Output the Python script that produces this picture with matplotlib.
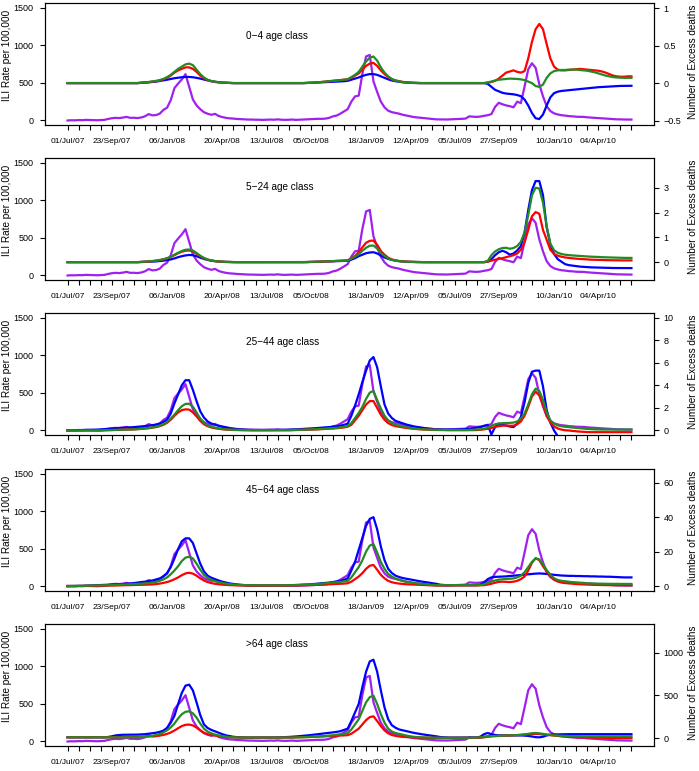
import matplotlib.pyplot as plt
import numpy as np

plt.rcParams['font.family'] = ['Liberation Sans', 'DejaVu Sans']

# weekly index, week 0 = 01/Jul/07
weeks = np.arange(154)

tick_label_weeks = [0, 12, 27, 42, 54, 66, 81, 93, 105, 117, 132, 144]
tick_label_text = ['01/Jul/07', '23/Sep/07', '06/Jan/08', '20/Apr/08', '13/Jul/08',
                   '05/Oct/08', '18/Jan/09', '12/Apr/09', '05/Jul/09', '27/Sep/09',
                   '10/Jan/10', '04/Apr/10']

# ILI rate per 100,000 (left axis)
ili = [
    0, 3, 2, 5, 4, 8, 6, 5, 3, 5,
    8, 20, 30, 35, 32, 38, 48, 35, 36, 32,
    40, 55, 85, 68, 72, 90, 140, 170, 270, 430,
    490, 545, 615, 450, 280, 200, 150, 110, 90, 75,
    88, 60, 45, 35, 28, 25, 20, 18, 15, 12,
    12, 10, 10, 8, 10, 12, 10, 15, 10, 8,
    10, 12, 8, 10, 12, 15, 18, 20, 22, 22,
    25, 35, 55, 65, 90, 120, 150, 250, 320, 330,
    620, 850, 870, 520, 380, 250, 175, 130, 110, 100,
    90, 75, 65, 55, 45, 40, 35, 30, 25, 20,
    15, 14, 13, 13, 15, 16, 18, 22, 25, 55,
    50, 48, 52, 62, 70, 85, 180, 235, 215, 200,
    190, 175, 250, 230, 450, 680, 760, 700, 480, 320,
    190, 125, 95, 80, 70, 65, 58, 55, 50, 48,
    48, 42, 38, 35, 32, 28, 25, 22, 18, 15,
    15, 13, 13, 12]

# excess deaths (right axis), 0-4
red_04 = [
    0, 0, 0, 0, 0, 0, 0, 0, 0, 0,
    0, 0, 0, 0, 0, 0, 0, 0, 0, 0,
    0.005, 0.008, 0.012, 0.018, 0.025, 0.035, 0.05, 0.07, 0.10, 0.14,
    0.17, 0.19, 0.21, 0.21, 0.19, 0.15, 0.10, 0.065, 0.04, 0.025,
    0.015, 0.01, 0.006, 0.004, 0.002, 0, 0, 0, 0, 0,
    0, 0, 0, 0, 0, 0, 0, 0, 0, 0,
    0, 0, 0, 0, 0, 0.002, 0.004, 0.006, 0.01, 0.015,
    0.02, 0.025, 0.03, 0.035, 0.04, 0.045, 0.05, 0.07, 0.10, 0.13,
    0.18, 0.23, 0.26, 0.27, 0.23, 0.17, 0.12, 0.08, 0.05, 0.035,
    0.025, 0.015, 0.01, 0.006, 0.004, 0.002, 0, 0, 0, 0,
    0, 0, 0, 0, 0, 0, 0, 0, 0, 0,
    0, 0, 0, 0, 0.005, 0.015, 0.03, 0.06, 0.10, 0.14,
    0.155, 0.17, 0.15, 0.14, 0.16, 0.33, 0.55, 0.72, 0.79, 0.72,
    0.52, 0.33, 0.22, 0.18, 0.17, 0.17, 0.175, 0.18, 0.185, 0.19,
    0.185, 0.18, 0.175, 0.17, 0.165, 0.155, 0.14, 0.12, 0.10, 0.09,
    0.085, 0.085, 0.09, 0.09]
green_04 = [
    0, 0, 0, 0, 0, 0, 0, 0, 0, 0,
    0, 0, 0, 0, 0, 0, 0, 0, 0, 0,
    0.005, 0.01, 0.015, 0.022, 0.03, 0.04, 0.055, 0.08, 0.11, 0.15,
    0.19, 0.22, 0.25, 0.26, 0.24, 0.18, 0.12, 0.075, 0.045, 0.028,
    0.017, 0.01, 0.006, 0.004, 0.002, 0, 0, 0, 0, 0,
    0, 0, 0, 0, 0, 0, 0, 0, 0, 0,
    0, 0, 0, 0, 0, 0.002, 0.004, 0.007, 0.01, 0.015,
    0.02, 0.025, 0.03, 0.035, 0.04, 0.045, 0.05, 0.08, 0.11, 0.15,
    0.22, 0.29, 0.34, 0.355, 0.30, 0.21, 0.14, 0.09, 0.055, 0.035,
    0.022, 0.014, 0.008, 0.005, 0.003, 0.001, 0, 0, 0, 0,
    0, 0, 0, 0, 0, 0, 0, 0, 0, 0,
    0, 0, 0, 0, 0.01, 0.02, 0.035, 0.045, 0.05, 0.055,
    0.06, 0.058, 0.055, 0.05, 0.04, 0.02, 0.0, -0.04, -0.05, -0.02,
    0.07, 0.13, 0.16, 0.17, 0.175, 0.175, 0.18, 0.18, 0.18, 0.175,
    0.17, 0.165, 0.155, 0.145, 0.13, 0.115, 0.10, 0.09, 0.08, 0.075,
    0.072, 0.07, 0.07, 0.07]
blue_04 = [
    0, 0, 0, 0, 0, 0, 0, 0, 0, 0,
    0, 0, 0, 0, 0, 0, 0, 0, 0, 0,
    0.003, 0.006, 0.01, 0.015, 0.02, 0.028, 0.035, 0.045, 0.055, 0.065,
    0.072, 0.078, 0.082, 0.082, 0.078, 0.07, 0.06, 0.048, 0.036, 0.026,
    0.018, 0.012, 0.007, 0.004, 0.002, 0, 0, 0, 0, 0,
    0, 0, 0, 0, 0, 0, 0, 0, 0, 0,
    0, 0, 0, 0, 0, 0.002, 0.004, 0.006, 0.008, 0.01,
    0.012, 0.015, 0.018, 0.02, 0.022, 0.025, 0.03, 0.045, 0.06, 0.075,
    0.095, 0.11, 0.12, 0.12, 0.11, 0.09, 0.07, 0.05, 0.035, 0.025,
    0.017, 0.01, 0.006, 0.003, 0.001, 0, 0, 0, 0, 0,
    0, 0, 0, 0, 0, 0, 0, 0, 0, 0,
    0, 0, 0, 0, -0.01, -0.05, -0.09, -0.11, -0.13, -0.14,
    -0.145, -0.15, -0.16, -0.175, -0.22, -0.3, -0.4, -0.47, -0.48, -0.42,
    -0.3, -0.19, -0.135, -0.115, -0.105, -0.1, -0.095, -0.09, -0.085, -0.08,
    -0.075, -0.07, -0.065, -0.06, -0.055, -0.052, -0.048, -0.045, -0.042, -0.04,
    -0.038, -0.037, -0.036, -0.036]

# 5-24
red_524 = [
    0, 0, 0, 0, 0, 0, 0, 0, 0, 0,
    0, 0, 0, 0, 0, 0, 0, 0, 0, 0,
    0.01, 0.02, 0.03, 0.04, 0.06, 0.08, 0.11, 0.15, 0.21, 0.28,
    0.36, 0.42, 0.46, 0.47, 0.43, 0.34, 0.24, 0.16, 0.1, 0.065,
    0.04, 0.025, 0.015, 0.008, 0.004, 0.002, 0, 0, 0, 0,
    0, 0, 0, 0, 0, 0, 0, 0, 0, 0,
    0, 0, 0, 0, 0, 0.005, 0.01, 0.015, 0.02, 0.025,
    0.03, 0.035, 0.04, 0.05, 0.055, 0.06, 0.07, 0.15, 0.25, 0.40,
    0.6, 0.78, 0.86, 0.87, 0.7, 0.45, 0.3, 0.18, 0.11, 0.07,
    0.045, 0.03, 0.02, 0.012, 0.008, 0.004, 0.002, 0, 0, 0,
    0, 0, 0, 0, 0, 0, 0, 0, 0, 0,
    0, 0, 0, 0, 0.02, 0.06, 0.1, 0.13, 0.16, 0.2,
    0.24, 0.28, 0.35, 0.5, 0.8, 1.3, 1.85, 2.02, 1.95, 1.3,
    0.9, 0.5, 0.33, 0.26, 0.22, 0.19, 0.17, 0.155, 0.14, 0.13,
    0.12, 0.11, 0.1, 0.095, 0.09, 0.085, 0.08, 0.078, 0.075, 0.072,
    0.07, 0.07, 0.07, 0.07]
green_524 = [
    0, 0, 0, 0, 0, 0, 0, 0, 0, 0,
    0, 0, 0, 0, 0, 0, 0, 0, 0, 0,
    0.01, 0.02, 0.03, 0.045, 0.06, 0.085, 0.12, 0.16, 0.22, 0.3,
    0.38, 0.45, 0.5, 0.51, 0.47, 0.37, 0.26, 0.17, 0.11, 0.07,
    0.045, 0.028, 0.017, 0.01, 0.005, 0.002, 0, 0, 0, 0,
    0, 0, 0, 0, 0, 0, 0, 0, 0, 0,
    0, 0, 0, 0, 0, 0.005, 0.01, 0.015, 0.02, 0.025,
    0.03, 0.035, 0.04, 0.05, 0.055, 0.06, 0.07, 0.14, 0.22, 0.32,
    0.46, 0.58, 0.66, 0.67, 0.55, 0.37, 0.25, 0.15, 0.095, 0.06,
    0.04, 0.025, 0.015, 0.01, 0.006, 0.003, 0.001, 0, 0, 0,
    0, 0, 0, 0, 0, 0, 0, 0, 0, 0,
    0, 0, 0, 0, 0.05, 0.28, 0.43, 0.52, 0.57, 0.58,
    0.54, 0.57, 0.65, 0.82, 1.2, 1.9, 2.7, 3.0, 2.97, 2.4,
    1.45, 0.75, 0.48, 0.38, 0.33, 0.3, 0.285, 0.27, 0.26, 0.25,
    0.24, 0.23, 0.22, 0.215, 0.21, 0.2, 0.195, 0.19, 0.185, 0.18,
    0.175, 0.172, 0.17, 0.17]
blue_524 = [
    0, 0, 0, 0, 0, 0, 0, 0, 0, 0,
    0, 0, 0, 0, 0, 0, 0, 0, 0, 0,
    0.005, 0.01, 0.015, 0.022, 0.03, 0.045, 0.06, 0.08, 0.11, 0.15,
    0.2, 0.24, 0.27, 0.29, 0.28, 0.24, 0.18, 0.13, 0.09, 0.06,
    0.04, 0.025, 0.015, 0.01, 0.005, 0.002, 0, 0, 0, 0,
    0, 0, 0, 0, 0, 0, 0, 0, 0, 0,
    0, 0, 0, 0, 0, 0.003, 0.006, 0.01, 0.015, 0.02,
    0.025, 0.03, 0.035, 0.04, 0.045, 0.05, 0.06, 0.1, 0.16, 0.24,
    0.3, 0.36, 0.39, 0.4, 0.35, 0.27, 0.19, 0.13, 0.09, 0.06,
    0.04, 0.025, 0.015, 0.01, 0.006, 0.003, 0.001, 0, 0, 0,
    0, 0, 0, 0, 0, 0, 0, 0, 0, 0,
    0, 0, 0, 0, 0.02, 0.12, 0.28, 0.4, 0.46, 0.4,
    0.3, 0.35, 0.47, 0.65, 1.2, 2.1, 2.9, 3.27, 3.27, 2.7,
    1.4, 0.7, 0.33, 0.12, 0.02, -0.08, -0.12, -0.14, -0.16, -0.18,
    -0.19, -0.2, -0.21, -0.215, -0.22, -0.225, -0.23, -0.233, -0.236, -0.238,
    -0.24, -0.24, -0.24, -0.24]

# 25-44
red_2544 = [
    0, 0, 0, 0, 0, 0, 0, 0, 0, 0,
    0.02, 0.03, 0.04, 0.05, 0.06, 0.07, 0.08, 0.09, 0.1, 0.12,
    0.14, 0.17, 0.2, 0.25, 0.3, 0.38, 0.5, 0.68, 0.95, 1.3,
    1.6, 1.8, 1.87, 1.85, 1.6, 1.25, 0.85, 0.55, 0.38, 0.27,
    0.2, 0.15, 0.11, 0.08, 0.06, 0.045, 0.035, 0.03, 0.025, 0.02,
    0.02, 0.02, 0.02, 0.02, 0.02, 0.02, 0.02, 0.02, 0.02, 0.02,
    0.02, 0.03, 0.04, 0.05, 0.06, 0.07, 0.08, 0.09, 0.1, 0.12,
    0.14, 0.16, 0.18, 0.2, 0.23, 0.27, 0.33, 0.5, 0.9, 1.3,
    1.8, 2.3, 2.6, 2.6, 2.0, 1.4, 0.95, 0.65, 0.48, 0.38,
    0.32, 0.27, 0.22, 0.18, 0.15, 0.12, 0.1, 0.08, 0.07, 0.06,
    0.05, 0.04, 0.04, 0.03, 0.03, 0.03, 0.03, 0.03, 0.03, 0.03,
    0.03, 0.04, 0.06, 0.1, 0.15, 0.22, 0.32, 0.38, 0.42, 0.44,
    0.42, 0.42, 0.55, 0.8, 1.3, 2.1, 3.0, 3.44, 3.1, 2.3,
    1.3, 0.7, 0.35, 0.18, 0.08, 0.02, 0.0, -0.04, -0.07, -0.1,
    -0.12, -0.14, -0.15, -0.15, -0.15, -0.15, -0.15, -0.15, -0.15, -0.15,
    -0.15, -0.15, -0.15, -0.15]
green_2544 = [
    0, 0, 0, 0, 0, 0, 0, 0, 0, 0,
    0.02, 0.03, 0.04, 0.05, 0.06, 0.07, 0.08, 0.09, 0.1, 0.12,
    0.15, 0.18, 0.22, 0.27, 0.33, 0.42, 0.55, 0.75, 1.05, 1.4,
    1.8, 2.15, 2.35, 2.37, 2.1, 1.6, 1.05, 0.68, 0.45, 0.33,
    0.25, 0.18, 0.13, 0.1, 0.08, 0.06, 0.05, 0.04, 0.035, 0.03,
    0.03, 0.03, 0.03, 0.03, 0.03, 0.03, 0.03, 0.03, 0.03, 0.03,
    0.03, 0.04, 0.05, 0.06, 0.07, 0.08, 0.09, 0.1, 0.12, 0.14,
    0.16, 0.18, 0.2, 0.23, 0.27, 0.32, 0.4, 0.65, 1.1, 1.55,
    2.1, 2.8, 3.35, 3.5, 2.7, 1.95, 1.3, 0.9, 0.65, 0.5,
    0.42, 0.35, 0.28, 0.22, 0.18, 0.14, 0.11, 0.09, 0.08, 0.07,
    0.06, 0.05, 0.05, 0.04, 0.04, 0.04, 0.04, 0.04, 0.04, 0.05,
    0.06, 0.08, 0.1, 0.15, 0.25, 0.4, 0.55, 0.62, 0.65, 0.66,
    0.67, 0.7, 0.8, 1.05, 1.5, 2.3, 3.2, 3.7, 3.5, 2.7,
    1.6, 0.9, 0.6, 0.45, 0.38, 0.33, 0.3, 0.26, 0.23, 0.2,
    0.17, 0.14, 0.12, 0.1, 0.09, 0.08, 0.08, 0.08, 0.08, 0.08,
    0.08, 0.08, 0.08, 0.08]
blue_2544 = [
    0.02, 0.03, 0.03, 0.04, 0.04, 0.05, 0.06, 0.07, 0.08, 0.1,
    0.12, 0.15, 0.18, 0.2, 0.22, 0.24, 0.26, 0.27, 0.3, 0.33,
    0.36, 0.39, 0.42, 0.47, 0.53, 0.62, 0.75, 0.95, 1.5, 2.4,
    3.2, 4.0, 4.45, 4.45, 3.6, 2.6, 1.7, 1.15, 0.8, 0.62,
    0.5, 0.42, 0.35, 0.28, 0.2, 0.15, 0.11, 0.08, 0.06, 0.05,
    0.04, 0.04, 0.04, 0.04, 0.04, 0.04, 0.05, 0.05, 0.05, 0.06,
    0.07, 0.08, 0.1, 0.12, 0.14, 0.16, 0.18, 0.2, 0.22, 0.25,
    0.28, 0.3, 0.33, 0.37, 0.42, 0.5, 0.6, 1.3, 2.2, 3.2,
    4.3, 5.3, 6.2, 6.5, 5.6, 3.9, 2.3, 1.5, 1.1, 0.85,
    0.74, 0.62, 0.52, 0.44, 0.36, 0.3, 0.25, 0.2, 0.16, 0.13,
    0.1, 0.09, 0.08, 0.08, 0.08, 0.08, 0.09, 0.1, 0.12, 0.15,
    0.2, 0.25, 0.3, 0.4, 0.5, -0.35, 0.3, 0.6, 0.5, 0.44,
    0.35, 0.3, 0.6, 1.2, 2.5, 4.2, 5.2, 5.3, 5.3, 3.9,
    1.8, 0.7, 0.0, -0.5, -1.0, -1.3, -1.5, -1.6, -1.7, -1.7,
    -1.7, -1.7, -1.7, -1.7, -1.7, -1.7, -1.7, -1.7, -1.7, -1.7,
    -1.7, -1.7, -1.7, -1.7]

# 45-64
red_4564 = [
    0, 0, 0, 0, 0, 0, 0.05, 0.1, 0.1, 0.15,
    0.2, 0.2, 0.25, 0.3, 0.3, 0.35, 0.4, 0.45, 0.5, 0.55,
    0.6, 0.7, 0.8, 0.9, 1.1, 1.4, 1.8, 2.3, 3.0, 3.9,
    5.0, 6.3, 7.3, 7.7, 7.2, 6.0, 4.5, 3.2, 2.3, 1.7,
    1.3, 1.0, 0.8, 0.6, 0.5, 0.4, 0.35, 0.3, 0.25, 0.2,
    0.2, 0.2, 0.2, 0.2, 0.2, 0.2, 0.2, 0.2, 0.2, 0.2,
    0.2, 0.25, 0.3, 0.35, 0.4, 0.45, 0.5, 0.6, 0.7, 0.8,
    0.9, 1.0, 1.1, 1.2, 1.3, 1.4, 1.6, 2.5, 4.0, 5.5,
    7.5, 10.0, 11.8, 12.2, 9.5, 6.5, 4.5, 3.0, 2.2, 1.7,
    1.4, 1.2, 1.0, 0.9, 0.8, 0.7, 0.6, 0.5, 0.4, 0.35,
    0.3, 0.3, 0.3, 0.3, 0.3, 0.3, 0.3, 0.3, 0.3, 0.3,
    0.3, 0.35, 0.4, 0.5, 0.8, 1.3, 1.9, 2.4, 2.5, 2.4,
    2.3, 2.5, 3.0, 4.0, 5.5, 9.0, 13.5, 16.2, 15.0, 11.5,
    8.5, 5.5, 3.6, 2.6, 2.0, 1.7, 1.5, 1.3, 1.15, 1.0,
    0.9, 0.8, 0.7, 0.65, 0.6, 0.55, 0.5, 0.5, 0.45, 0.45,
    0.4, 0.4, 0.4, 0.4]
green_4564 = [
    0, 0, 0, 0.05, 0.1, 0.1, 0.15, 0.2, 0.25, 0.3,
    0.35, 0.4, 0.5, 0.6, 0.7, 0.8, 0.9, 1.0, 1.1, 1.2,
    1.35, 1.5, 1.7, 2.0, 2.4, 3.0, 3.8, 5.0, 6.8, 9.0,
    11.5, 14.5, 16.5, 17.0, 16.0, 13.0, 9.5, 6.5, 4.8, 3.6,
    2.8, 2.2, 1.8, 1.4, 1.1, 0.9, 0.7, 0.6, 0.5, 0.45,
    0.4, 0.4, 0.4, 0.4, 0.4, 0.4, 0.4, 0.4, 0.4, 0.4,
    0.4, 0.45, 0.5, 0.6, 0.7, 0.8, 0.9, 1.0, 1.2, 1.4,
    1.6, 1.8, 2.0, 2.2, 2.4, 2.7, 3.0, 5.0, 8.0, 11.0,
    15.0, 20.0, 23.5, 24.4, 19.5, 14.0, 10.0, 7.0, 5.5, 4.3,
    3.5, 2.9, 2.4, 2.0, 1.7, 1.4, 1.2, 1.0, 0.8, 0.6,
    0.5, 0.5, 0.5, 0.5, 0.5, 0.5, 0.5, 0.5, 0.5, 0.5,
    0.5, 0.5, 0.5, 1.0, 1.8, 2.5, 3.2, 3.7, 3.9, 4.1,
    4.2, 4.4, 5.0, 6.0, 8.0, 11.0, 14.0, 16.0, 15.5, 12.5,
    9.3, 6.5, 4.5, 3.5, 3.0, 2.7, 2.5, 2.2, 2.0, 1.8,
    1.65, 1.5, 1.45, 1.4, 1.35, 1.3, 1.3, 1.25, 1.25, 1.2,
    1.2, 1.2, 1.2, 1.2]
blue_4564 = [
    0, 0, 0, 0.1, 0.1, 0.2, 0.3, 0.4, 0.5, 0.6,
    0.7, 0.75, 0.8, 0.9, 1.0, 1.1, 1.3, 1.5, 1.7, 2.0,
    2.3, 2.5, 2.8, 3.2, 3.8, 4.4, 5.5, 7.5, 11.0, 16.0,
    21.5, 26.0, 27.7, 27.7, 25.0, 19.0, 13.0, 8.5, 6.0, 4.8,
    4.0, 3.2, 2.5, 2.0, 1.5, 1.2, 0.9, 0.7, 0.5, 0.4,
    0.3, 0.3, 0.3, 0.3, 0.3, 0.3, 0.3, 0.3, 0.35, 0.4,
    0.45, 0.5, 0.6, 0.7, 0.8, 0.9, 1.0, 1.2, 1.4, 1.6,
    1.8, 2.0, 2.3, 2.6, 3.0, 3.6, 4.4, 9.0, 14.0, 21.0,
    28.0, 35.0, 39.0, 40.0, 33.0, 23.0, 15.0, 10.0, 7.5, 6.0,
    5.2, 4.6, 4.2, 3.8, 3.4, 3.0, 2.6, 2.3, 2.0, 1.6,
    1.3, 0.8, 0.6, 0.5, 0.5, 0.5, 0.5, 0.5, 0.5, 0.5,
    0.5, 0.5, 0.8, 2.0, 4.0, 5.0, 5.3, 5.4, 5.5, 5.6,
    5.8, 6.0, 6.2, 6.4, 6.6, 6.8, 7.0, 7.2, 7.3, 7.2,
    7.0, 6.8, 6.5, 6.3, 6.1, 6.0, 5.9, 5.9, 5.8, 5.8,
    5.7, 5.7, 5.6, 5.6, 5.5, 5.5, 5.4, 5.4, 5.3, 5.2,
    5.1, 5.0, 5.0, 5.0]

# >64
red_64 = [
    8, 8, 8, 8, 8, 8, 8, 8, 8, 8,
    8, 8, 9, 10, 11, 12, 13, 14, 15, 16,
    17, 18, 19, 20, 22, 28, 36, 48, 65, 88,
    115, 140, 155, 158, 148, 122, 90, 62, 45, 35,
    28, 22, 17, 13, 10, 8, 7, 6, 5, 5,
    5, 5, 5, 5, 5, 5, 5, 5, 5, 5,
    5, 6, 7, 8, 9, 10, 12, 14, 16, 18,
    20, 22, 24, 26, 28, 30, 33, 50, 80, 110,
    160, 210, 245, 255, 200, 140, 90, 55, 35, 25,
    18, 13, 10, 8, 6, 5, 4, 3, 2, 2,
    1, 1, 1, 1, 1, 1, 1, 1, 1, 1,
    1, 2, 4, 8, 14, 20, 22, 24, 26, 28,
    30, 31, 33, 36, 40, 44, 47, 48, 46, 42,
    38, 33, 28, 24, 20, 17, 14, 12, 10, 8,
    7, 6, 5, 4, 3, 2, 2, 1, 1, 0,
    0, 0, 0, 0]
green_64 = [
    8, 8, 8, 8, 8, 8, 8, 8, 8, 8,
    8, 8, 8, 8, 8, 8, 8, 8, 8, 8,
    10, 13, 18, 25, 35, 48, 65, 90, 125, 170,
    230, 280, 308, 314, 290, 240, 170, 110, 75, 55,
    40, 30, 22, 15, 10, 8, 7, 6, 5, 5,
    5, 5, 5, 5, 5, 5, 5, 5, 5, 5,
    5, 6, 7, 8, 10, 12, 14, 16, 18, 20,
    24, 28, 32, 38, 44, 50, 57, 100, 160, 220,
    320, 420, 480, 498, 400, 280, 180, 110, 75, 58,
    48, 38, 28, 20, 14, 10, 8, 6, 5, 4,
    3, 3, 2, 2, 2, 2, 2, 2, 2, 2,
    3, 5, 8, 12, 18, 22, 24, 26, 28, 30,
    31, 32, 34, 38, 43, 50, 56, 59, 55, 48,
    42, 36, 31, 28, 26, 24, 23, 22, 21, 20,
    20, 20, 20, 20, 20, 20, 20, 20, 20, 20,
    20, 20, 20, 20]
blue_64 = [
    8, 8, 8, 8, 8, 8, 8, 8, 8, 8,
    8, 12, 20, 30, 35, 38, 39, 39, 39, 40,
    42, 45, 50, 56, 62, 72, 86, 120, 180, 260,
    400, 530, 615, 627, 560, 420, 270, 160, 118, 95,
    78, 62, 45, 31, 22, 14, 10, 8, 6, 5,
    5, 5, 5, 5, 5, 5, 6, 7, 8, 10,
    12, 15, 18, 22, 26, 30, 35, 40, 45, 50,
    55, 60, 66, 72, 80, 95, 110, 200, 300, 400,
    600, 780, 900, 920, 780, 560, 360, 220, 150, 120,
    100, 90, 80, 70, 60, 52, 45, 38, 32, 26,
    20, 12, 8, 6, 5, 5, 5, 5, 5, 5,
    5, 6, 15, 45, 59, 45, 36, 31, 31, 31,
    31, 31, 30, 30, 28, 24, 18, 10, 8, 15,
    30, 39, 42, 43, 44, 44, 45, 45, 45, 45,
    45, 45, 45, 45, 45, 45, 45, 45, 45, 45,
    45, 45, 45, 45]

age_classes = ['0\u22124 age class', '5\u221224 age class', '25\u221244 age class',
               '45\u221264 age class', '>64 age class']
reds = [red_04, red_524, red_2544, red_4564, red_64]
greens = [green_04, green_524, green_2544, green_4564, green_64]
blues = [blue_04, blue_524, blue_2544, blue_4564, blue_64]
right_ticks = [[-0.5, 0, 0.5, 1], [0, 1, 2, 3], [0, 2, 4, 6, 8, 10],
               [0, 20, 40, 60], [0, 500, 1000]]
right_lims = [(-0.56, 1.07), (-0.72, 4.2), (-0.4, 10.4), (-2.9, 68), (-94, 1340)]
title_y = [0.73, 0.765, 0.765, 0.83, 0.835]
tops = [3, 158, 313, 469, 624]

W, H = 699, 771
fig = plt.figure(figsize=(W / 100, H / 100), dpi=100)

purple = '#A020F0'
lw = 1.6

def fmt(v):
    s = '%g' % v
    return s.replace('-', '\u2212')

for i in range(5):
    top = tops[i]
    ax = fig.add_axes([45 / W, 1 - (top + 122) / H, 609 / W, 122 / H])
    ax.plot(weeks, ili, color=purple, lw=lw)
    ax.set_xlim(-6.12, 159.12)
    ax.set_ylim(-60, 1560)
    ax.set_yticks([0, 500, 1000, 1500])
    ax.set_yticklabels(['0', '500', '1000', '1500'])
    ax.set_xticks(range(0, 154, 3))
    labs = []
    for t in range(0, 154, 3):
        labs.append(tick_label_text[tick_label_weeks.index(t)] if t in tick_label_weeks else '')
    ax.set_xticklabels(labs)
    ax.tick_params(axis='x', direction='out', length=3.5, width=0.8, labelsize=6, pad=6)
    ax.tick_params(axis='y', direction='out', length=3.5, width=0.8, labelsize=6.5, pad=5)
    for s in ax.spines.values():
        s.set_linewidth(0.8)
    ax.text(-0.062, 0.57, 'ILI Rate per 100,000', transform=ax.transAxes,
            rotation=90, ha='center', va='center', fontsize=7.2)
    ax.text(0.33, title_y[i], age_classes[i], transform=ax.transAxes,
            ha='left', va='center', fontsize=7.2)

    ax2 = ax.twinx()
    ax2.plot(weeks, blues[i], color='blue', lw=lw)
    ax2.plot(weeks, reds[i], color='red', lw=lw)
    ax2.plot(weeks, greens[i], color='#228B22', lw=lw)
    ax2.set_ylim(*right_lims[i])
    ax2.set_yticks(right_ticks[i])
    ax2.set_yticklabels([fmt(v) for v in right_ticks[i]])
    ax2.tick_params(axis='y', direction='out', length=3.5, width=0.8, labelsize=6.5, pad=3.5)
    for s in ax2.spines.values():
        s.set_linewidth(0.8)
    ax2.text(1.064, 0.52, 'Number of Excess deaths', transform=ax.transAxes,
             rotation=90, ha='center', va='center', fontsize=7.2)

fig.savefig('out.png', dpi=100)
